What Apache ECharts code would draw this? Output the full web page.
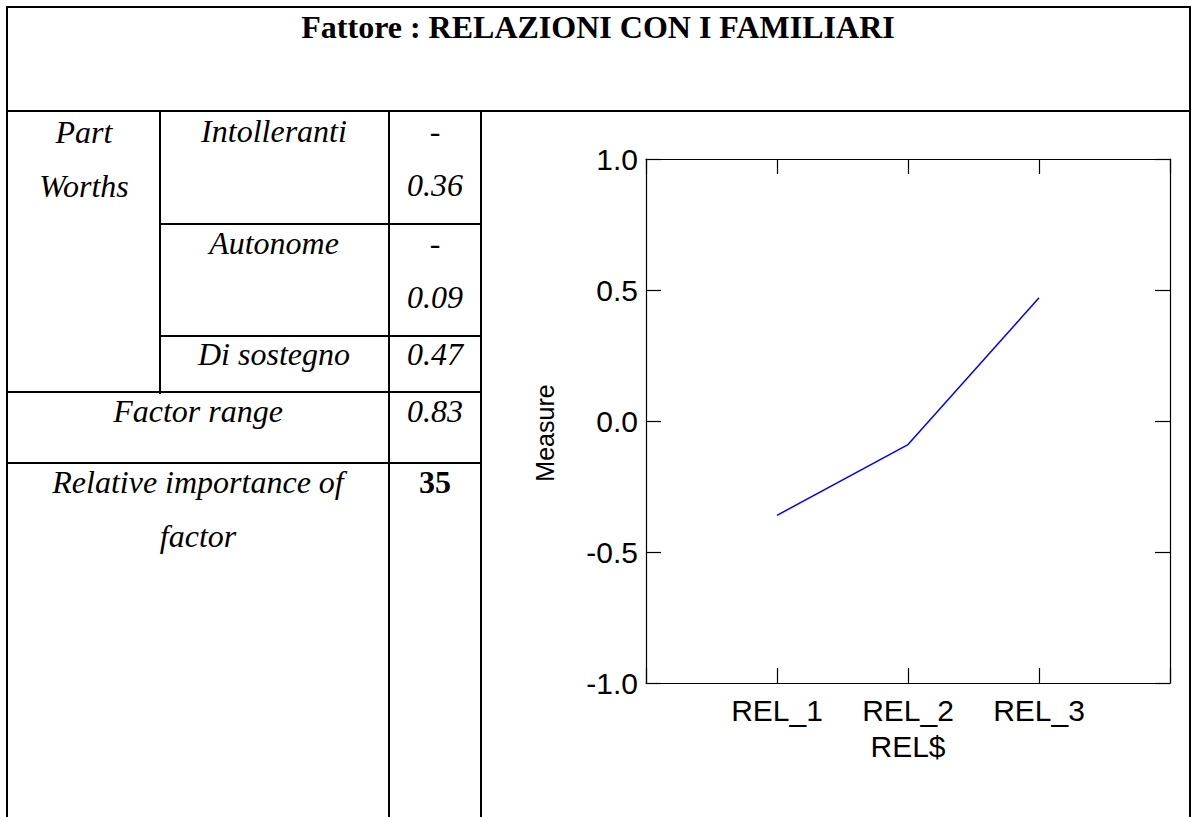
<!DOCTYPE html>
<html>
<head>
<meta charset="utf-8">
<script src="https://cdn.jsdelivr.net/npm/echarts@6/dist/echarts.min.js"></script>
<style>
  html, body { margin: 0; padding: 0; background: #fff; }
  #page { position: relative; width: 1192px; height: 817px; overflow: hidden; font-family: "Liberation Serif", "Times New Roman", serif; }
  .ln { position: absolute; background: #000; }
  .tx { position: absolute; font-size: 32px; line-height: 32px; white-space: nowrap; text-align: center; font-style: italic; color: #000; }
  .tx.b { font-weight: bold; font-style: normal; }
  #chart { position: absolute; left: 482px; top: 112px; width: 707px; height: 705px; }
</style>
</head>
<body>
<div id="page"><div id="chart"></div></div>
<script>
// dati del fattore
var factorTitle = 'Fattore : RELAZIONI CON I FAMILIARI';
var levelNames = ['Intolleranti', 'Autonome', 'Di sostegno'];
var partWorths = [-0.36, -0.09, 0.47];
var factorRange = 0.83;
var relImportance = 35;

var categories = ['REL_1', 'REL_2', 'REL_3'];
var measure = [-0.36, -0.09, 0.47];
var yTicks = [-1.0, -0.5, 0.0, 0.5, 1.0];

var page = document.getElementById('page');

function line(x, y, w, h) {
    var d = document.createElement('div');
    d.className = 'ln';
    d.style.left = x + 'px'; d.style.top = y + 'px';
    d.style.width = w + 'px'; d.style.height = h + 'px';
    page.appendChild(d);
}
// testo centrato su cx, con la linea di base a "base"
function text(str, cx, base, bold) {
    var d = document.createElement('div');
    d.className = bold ? 'tx b' : 'tx';
    d.textContent = str;
    d.style.left = (cx - 300) + 'px';
    d.style.width = '600px';
    d.style.top = (base - 27) + 'px';
    page.appendChild(d);
}

// bordi della tabella
line(6, 6, 1185, 2);
line(6, 6, 2, 811);
line(1189, 6, 2, 811);
line(6, 110, 1185, 2);
line(159, 110, 2, 284);
line(388, 110, 2, 707);
line(480, 110, 2, 707);
line(159, 223, 323, 2);
line(159, 335, 323, 2);
line(6, 391, 476, 2);
line(6, 462, 476, 2);

text(factorTitle, 598, 38, true);
text('Part', 84, 143);
text('Worths', 84, 197);

var rowBase = [142, 254, 365];
levelNames.forEach(function (n, i) {
    text(n, 274, rowBase[i]);
    var v = partWorths[i];
    if (v < 0) {
        // come nell'originale: il segno va a capo
        text('-', 435, rowBase[i]);
        text(Math.abs(v).toFixed(2), 435, rowBase[i] + 54);
    } else {
        text(v.toFixed(2), 435, rowBase[i]);
    }
});
text('Factor range', 198, 422);
text(factorRange.toFixed(2), 435, 422);
text('Relative importance of', 198, 493);
text('factor', 198, 547);
text(String(relImportance), 435, 493, true);

// grafico
var chart = echarts.init(document.getElementById('chart'), null, { renderer: 'svg' });
var font = '"Liberation Sans", Arial, sans-serif';
var axisLine = { show: true, onZero: false, lineStyle: { color: '#000', width: 1.2 } };
var tick = { show: true, inside: true, length: 15, lineStyle: { color: '#000', width: 1.2 } };

var option = {
    animation: false,
    grid: { left: 164, top: 47, width: 524, height: 524 },
    xAxis: [{
        type: 'value', position: 'bottom', min: 0, max: categories.length + 1, interval: 1,
        axisLine: axisLine, axisTick: tick, splitLine: { show: false },
        axisLabel: {
            color: '#000', fontSize: 30, fontFamily: font, margin: 12,
            formatter: function (v) { return categories[v - 1] || ''; }
        },
        name: 'REL$', nameLocation: 'middle', nameGap: 48,
        nameTextStyle: { color: '#000', fontSize: 30, fontFamily: font }
    }, {
        type: 'value', position: 'top', min: 0, max: categories.length + 1, interval: 1,
        axisLine: axisLine, axisTick: tick, splitLine: { show: false },
        axisLabel: { show: false }
    }],
    yAxis: [{
        type: 'value', position: 'left', min: yTicks[0], max: yTicks[yTicks.length - 1], interval: 0.5,
        axisLine: axisLine, axisTick: tick, splitLine: { show: false },
        axisLabel: {
            color: '#000', fontSize: 30, fontFamily: font, margin: 8,
            formatter: function (v) { return v.toFixed(1); }
        },
        name: 'Measure', nameLocation: 'middle', nameGap: 89,
        nameTextStyle: { color: '#000', fontSize: 25, fontFamily: font, padding: [0, 24, 0, 0] }
    }, {
        type: 'value', position: 'right', min: yTicks[0], max: yTicks[yTicks.length - 1], interval: 0.5,
        axisLine: axisLine, axisTick: tick, splitLine: { show: false },
        axisLabel: { show: false }
    }],
    series: [{
        type: 'line',
        data: categories.map(function (c, i) { return [i + 1, measure[i]]; }),
        symbol: 'none',
        lineStyle: { color: '#0000ff', width: 1.5 }
    }]
};
chart.setOption(option);
</script>
</body>
</html>
